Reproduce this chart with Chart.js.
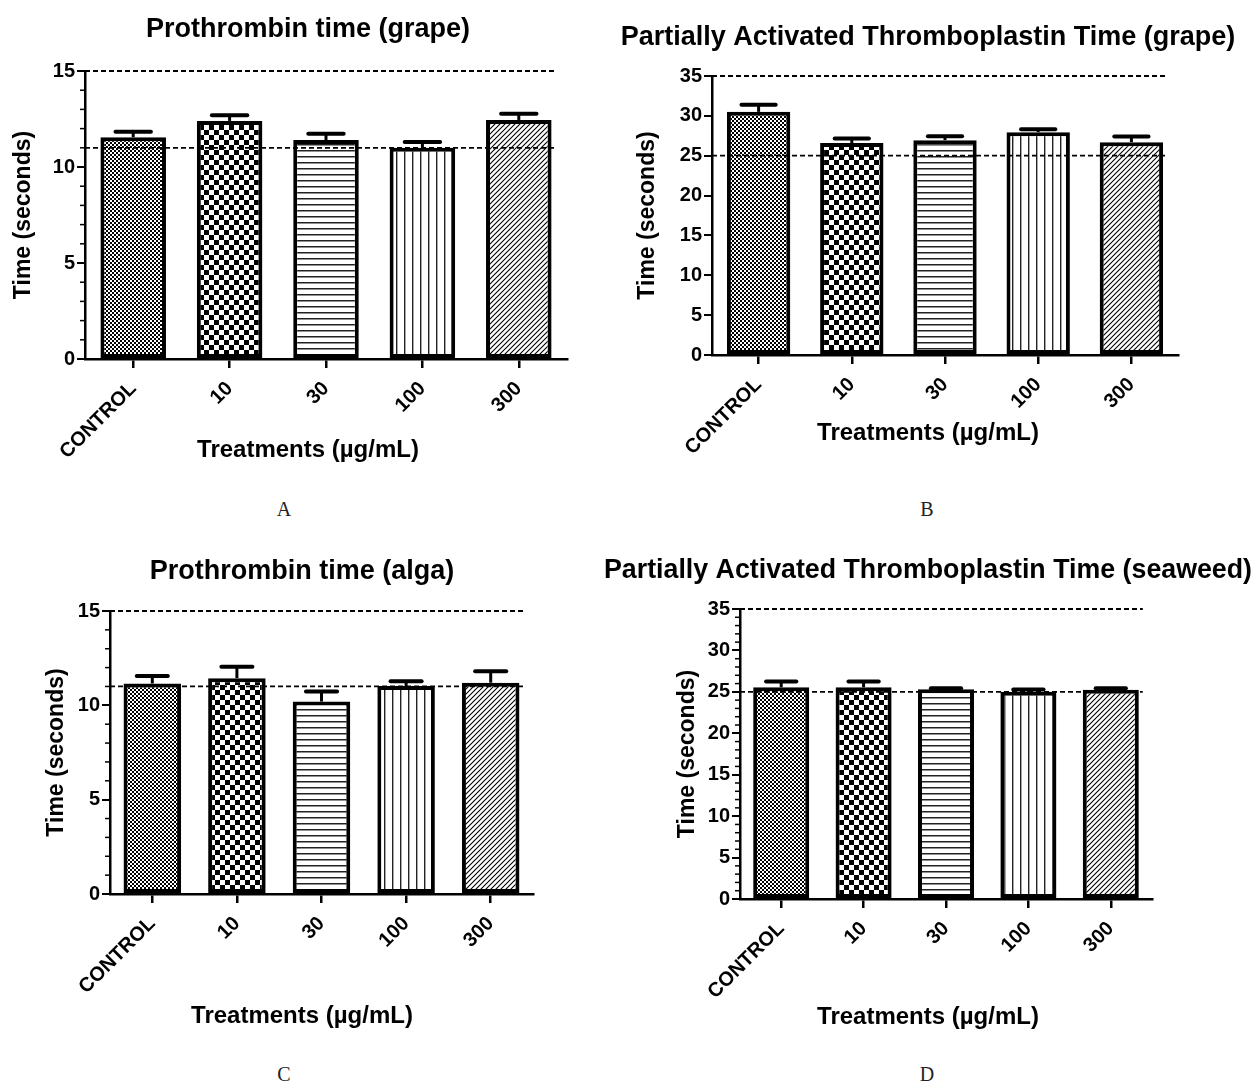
<!DOCTYPE html>
<html>
<head>
<meta charset="utf-8">
<script src="https://cdn.jsdelivr.net/npm/chart.js@4.4.0/dist/chart.umd.min.js"></script>
<style>
  body { margin: 0; background: #fff; width: 1252px; height: 1084px; position: relative; overflow: hidden; }
  canvas { position: absolute; }
  .panel { position: absolute; font-family: "Liberation Serif", "Times New Roman", serif; font-size: 20px; color: #222; transform: translate(-50%, -50%); }
</style>
</head>
<body>
<canvas id="chartA" width="608" height="480" style="left:4px;top:0px"></canvas>
<canvas id="chartB" width="648" height="470" style="left:604px;top:0px"></canvas>
<canvas id="chartC" width="604" height="520" style="left:0px;top:535px"></canvas>
<canvas id="chartD" width="648" height="520" style="left:604px;top:535px"></canvas>
<div class="panel" style="left:284px;top:509px">A</div>
<div class="panel" style="left:927px;top:509px">B</div>
<div class="panel" style="left:284px;top:1074px">C</div>
<div class="panel" style="left:927px;top:1074px">D</div>
<script>
    'use strict';

    // data (mean and upper error)
    var categories = ['CONTROL', '10', '30', '100', '300'];
    var ptGrapeMean = [11.55, 12.4, 11.4, 11.0, 12.45];
    var ptGrapeErr = [0.28, 0.3, 0.33, 0.3, 0.32];
    var apttGrapeMean = [30.5, 26.6, 26.95, 27.95, 26.7];
    var apttGrapeErr = [0.88, 0.56, 0.5, 0.36, 0.7];
    var ptAlgaMean = [11.16, 11.44, 10.2, 11.02, 11.2];
    var ptAlgaErr = [0.39, 0.6, 0.53, 0.26, 0.6];
    var apttSeaweedMean = [25.55, 25.55, 25.3, 25.0, 25.25];
    var apttSeaweedErr = [0.7, 0.7, 0.15, 0.28, 0.2];
    var ptRefLines = [15, 11];
    var apttRefLines = [35, 25];
    var ptAxisMax = 15;
    var apttAxisMax = 35;
    var xAxisTitle = 'Treatments (\u00b5g/mL)';
    var yAxisTitle = 'Time (seconds)';

    var fontFamily = '"Liberation Sans", Arial, sans-serif';
    Chart.defaults.font.family = fontFamily;
    Chart.defaults.color = '#000';

    function makePattern(kind) {
        var c = document.createElement('canvas');
        var g = c.getContext('2d');
        var s = 4;
        if (kind === 'check') s = 10;
        if (kind === 'hlines') s = 6;
        if (kind === 'vlines') s = 8;
        if (kind === 'diag') s = 5;
        c.width = s; c.height = s;
        g.fillStyle = '#fff';
        g.fillRect(0, 0, s, s);
        g.fillStyle = '#000';
        g.strokeStyle = '#000';
        if (kind === 'fine') {
            g.fillRect(0, 0, 2, 2);
            g.fillRect(2, 2, 2, 2);
        } else if (kind === 'check') {
            g.fillRect(0, 0, 5, 5);
            g.fillRect(5, 5, 5, 5);
        } else if (kind === 'hlines') {
            g.fillStyle = '#222';
            g.fillRect(0, 0, s, 1.5);
        } else if (kind === 'vlines') {
            g.fillStyle = '#222';
            g.fillRect(0, 0, 1.4, s);
        } else if (kind === 'diag') {
            g.lineWidth = 1.1;
            g.beginPath();
            g.moveTo(-1, s + 1); g.lineTo(s + 1, -1);
            g.moveTo(-1, 1); g.lineTo(1, -1);
            g.moveTo(s - 1, s + 1); g.lineTo(s + 1, s - 1);
            g.stroke();
        }
        return g.createPattern(c, 'repeat');
    }

    var fills = ['fine', 'check', 'hlines', 'vlines', 'diag'].map(makePattern);

    // reference lines, error bars, minor ticks, x axis title
    var decorPlugin = {
        id: 'decor',
        afterDatasetsDraw: function (chart, args, opts) {
            var ctx = chart.ctx;
            var y = chart.scales.y;
            var area = chart.chartArea;
            var meta = chart.getDatasetMeta(0);
            var last = meta.data[meta.data.length - 1];
            ctx.save();
            ctx.strokeStyle = '#000';
            ctx.lineWidth = 1.8;
            ctx.setLineDash([5, 3]);
            opts.refs.forEach(function (v) {
                var py = y.getPixelForValue(v);
                ctx.beginPath();
                ctx.moveTo(area.left, py);
                ctx.lineTo(last.x + last.width / 2 + 4, py);
                ctx.stroke();
            });
            ctx.setLineDash([]);
            meta.data.forEach(function (bar, i) {
                var top = y.getPixelForValue(opts.means[i]);
                var cap = y.getPixelForValue(opts.means[i] + opts.errs[i]);
                var hw = bar.width * 0.27;
                ctx.lineWidth = 3;
                ctx.lineCap = 'butt';
                ctx.beginPath();
                ctx.moveTo(bar.x, top);
                ctx.lineTo(bar.x, cap);
                ctx.stroke();
                ctx.lineWidth = 4;
                ctx.lineCap = 'round';
                ctx.beginPath();
                ctx.moveTo(bar.x - hw, cap);
                ctx.lineTo(bar.x + hw, cap);
                ctx.stroke();
            });
            if (opts.minor) {
                ctx.lineWidth = 1.5;
                ctx.lineCap = 'butt';
                for (var v = 1; v < y.max; v++) {
                    if (v % 5 === 0) continue;
                    var py = y.getPixelForValue(v);
                    ctx.beginPath();
                    ctx.moveTo(area.left - 5, py);
                    ctx.lineTo(area.left, py);
                    ctx.stroke();
                }
            }
            ctx.fillStyle = '#000';
            ctx.font = 'bold 24px ' + fontFamily;
            ctx.textAlign = 'center';
            ctx.textBaseline = 'middle';
            ctx.fillText(opts.xTitle, chart.width / 2, opts.xTitleY);
            ctx.restore();
        }
    };

    // g = canvas box and wanted chart geometry in page pixels
    function buildChart(id, title, means, errs, refs, axisMax, minor, g) {
        var titleLH = 27 * 1.2;
        var axisLH = 23 * 1.2;
        var tTop = (g.ty + 3 - g.ct) - titleLH / 2;
        var tBottom = (g.T - g.ct) - tTop - titleLH;
        var xH = (g.ct + g.ch) - g.B - 2;
        var yW = g.L - g.cl;
        var rightW = (g.cl + g.cw) - g.R;

        return new Chart(document.getElementById(id), {
            type: 'bar',
            data: {
                labels: categories,
                datasets: [{
                    data: means,
                    backgroundColor: fills,
                    borderColor: '#000',
                    borderWidth: 4,
                    borderSkipped: false,
                    categoryPercentage: 1,
                    barPercentage: 0.68
                }]
            },
            options: {
                responsive: false,
                animation: false,
                layout: { padding: 0 },
                plugins: {
                    legend: { display: false },
                    tooltip: { enabled: false },
                    title: {
                        display: true,
                        text: title,
                        color: '#000',
                        font: { size: 27, weight: 'bold' },
                        padding: { top: tTop, bottom: tBottom }
                    },
                    decor: { refs: refs, means: means, errs: errs, minor: minor, xTitle: xAxisTitle, xTitleY: g.sy + 2 - g.ct }
                },
                scales: {
                    x: {
                        grid: { display: true, drawOnChartArea: false, offset: false, tickLength: 9, lineWidth: 2.5, color: '#000' },
                        border: { display: true, color: '#000', width: 2.5 },
                        ticks: { autoSkip: false, minRotation: 45, maxRotation: 45, padding: 9, font: { size: 20, weight: 'bold' } },
                        afterFit: function (scale) { scale.height = xH; }
                    },
                    y: {
                        min: 0,
                        max: axisMax,
                        grid: { display: true, drawOnChartArea: false, tickLength: 8, lineWidth: 2, color: '#000' },
                        border: { display: true, color: '#000', width: 2.5 },
                        ticks: { stepSize: 5, padding: 2, font: { size: 20, weight: 'bold' } },
                        title: {
                            display: true,
                            text: yAxisTitle,
                            font: { size: 23, weight: 'bold' },
                            padding: { top: (g.yx - g.cl) - axisLH / 2, bottom: 0 }
                        },
                        afterFit: function (scale) { scale.width = yW; }
                    },
                    // empty right-hand spacer so the title stays centred on the canvas
                    spacer: {
                        type: 'linear',
                        position: 'right',
                        grid: { display: false },
                        border: { display: false },
                        ticks: { display: false },
                        afterFit: function (scale) { scale.width = rightW; }
                    }
                }
            },
            plugins: [decorPlugin]
        });
    }

    buildChart('chartA', 'Prothrombin time (grape)', ptGrapeMean, ptGrapeErr, ptRefLines, ptAxisMax, true,
        { cl: 4, ct: 0, cw: 608, ch: 480, L: 85, T: 71, R: 567, B: 357, ty: 27, sy: 448, yx: 24 });
    buildChart('chartB', 'Partially Activated Thromboplastin Time (grape)', apttGrapeMean, apttGrapeErr, apttRefLines, apttAxisMax, false,
        { cl: 604, ct: 0, cw: 648, ch: 470, L: 712, T: 76, R: 1178, B: 353, ty: 35, sy: 431, yx: 648 });
    buildChart('chartC', 'Prothrombin time (alga)', ptAlgaMean, ptAlgaErr, ptRefLines, ptAxisMax, true,
        { cl: 0, ct: 535, cw: 604, ch: 520, L: 110, T: 611, R: 533, B: 892, ty: 569, sy: 1014, yx: 57 });
    buildChart('chartD', 'Partially Activated Thromboplastin Time (seaweed)', apttSeaweedMean, apttSeaweedErr, apttRefLines, apttAxisMax, true,
        { cl: 604, ct: 535, cw: 648, ch: 520, L: 740, T: 609, R: 1152, B: 897, ty: 568, sy: 1015, yx: 688 });
</script>
</body>
</html>
